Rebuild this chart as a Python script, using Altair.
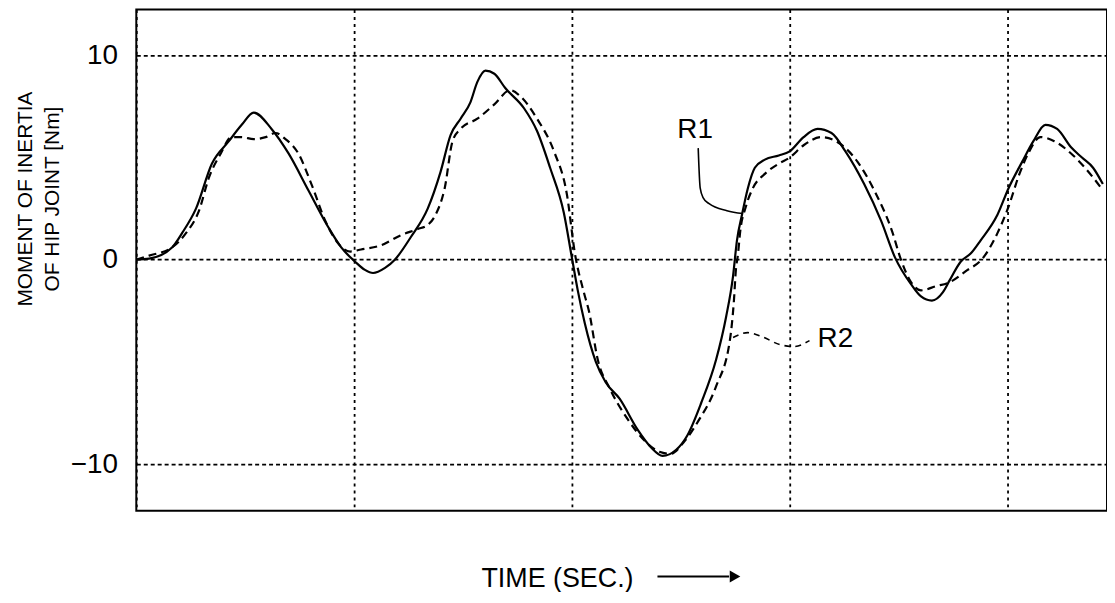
import altair as alt
import pandas as pd

# ---- data ----
r1_time = [0.000, 0.059, 0.164, 0.210, 0.274, 0.347, 0.425, 0.484, 0.539, 0.621,
           0.699, 0.790, 0.881, 0.941, 1.005, 1.050, 1.087, 1.142, 1.187, 1.260,
           1.338, 1.397, 1.443, 1.489, 1.534, 1.566, 1.603, 1.644, 1.694, 1.781,
           1.840, 1.900, 1.963, 2.000, 2.027, 2.059, 2.110, 2.155, 2.219, 2.301,
           2.365, 2.416, 2.479, 2.530, 2.594, 2.662, 2.708, 2.740, 2.758, 2.781,
           2.808, 2.840, 2.886, 2.950, 3.000, 3.064, 3.128, 3.192, 3.256, 3.342,
           3.420, 3.484, 3.557, 3.603, 3.653, 3.703, 3.735, 3.785, 3.831, 3.877,
           3.954, 4.005, 4.068, 4.119, 4.174, 4.228, 4.292, 4.342, 4.393, 4.438]
r1_value = [0.0, 0.05, 0.6, 1.3, 2.5, 4.7, 5.8, 6.6, 7.2, 6.4,
            5.2, 3.4, 1.6, 0.6, -0.1, -0.5, -0.65, -0.4, 0.0, 1.1,
            2.5, 4.3, 6.1, 6.9, 7.7, 8.7, 9.25, 9.1, 8.4, 7.4,
            6.3, 4.5, 2.3, 0.1, -1.5, -3.1, -5.0, -6.0, -6.8, -8.3,
            -9.2, -9.6, -9.3, -8.6, -7.0, -4.9, -2.8, -0.8, 0.95, 2.2,
            3.5, 4.5, 4.9, 5.1, 5.3, 6.0, 6.4, 6.2, 5.3, 3.7,
            1.9, 0.1, -1.2, -1.8, -2.0, -1.6, -1.0, -0.1, 0.3, 0.95,
            2.2, 3.5, 4.8, 5.8, 6.6, 6.4, 5.5, 5.0, 4.5, 3.7]

r2_time = [0.000, 0.059, 0.164, 0.228, 0.288, 0.333, 0.388, 0.438, 0.484, 0.539,
           0.594, 0.639, 0.685, 0.744, 0.804, 0.868, 0.927, 0.982, 1.032, 1.123,
           1.215, 1.292, 1.338, 1.374, 1.416, 1.452, 1.489, 1.566, 1.644, 1.717,
           1.763, 1.840, 1.918, 1.977, 2.014, 2.055, 2.078, 2.119, 2.174, 2.256,
           2.338, 2.402, 2.452, 2.516, 2.580, 2.662, 2.726, 2.744, 2.753, 2.763,
           2.772, 2.799, 2.831, 2.886, 2.950, 3.000, 3.064, 3.146, 3.228, 3.311,
           3.388, 3.470, 3.511, 3.557, 3.603, 3.671, 3.735, 3.817, 3.881, 3.954,
           4.005, 4.055, 4.100, 4.151, 4.215, 4.292, 4.356, 4.438]
r2_value = [0.0, 0.2, 0.6, 1.3, 2.4, 4.0, 5.2, 6.0, 6.0, 5.9,
            6.0, 6.2, 5.9, 5.2, 3.7, 1.9, 0.8, 0.4, 0.5, 0.7,
            1.2, 1.5, 1.7, 2.2, 3.5, 5.8, 6.4, 6.9, 7.6, 8.3,
            8.0, 6.9, 5.3, 3.2, 0.3, -1.6, -2.5, -4.9, -6.3, -7.8,
            -8.9, -9.4, -9.5, -8.9, -7.9, -6.2, -3.9, -2.0, -0.5, 0.3,
            1.3, 2.6, 3.5, 4.2, 4.7, 5.0, 5.6, 6.0, 5.7, 4.8,
            3.4, 1.4, 0.0, -1.1, -1.5, -1.3, -1.1, -0.5, 0.0, 1.3,
            2.6, 4.2, 5.3, 6.0, 5.8, 5.2, 4.5, 3.4]

y_ticks = [-10, 0, 10]
x_grid = [0, 1, 2, 3, 4]

label_text = ["R1", "R2"]
label_time = [2.484, 3.128]
label_value = [6.36, -3.86]

r1_leader_time = [2.580, 2.589, 2.603, 2.630, 2.712, 2.785]
r1_leader_value = [5.46, 3.52, 3.03, 2.74, 2.40, 2.26]
r2_leader_time = [2.740, 2.808, 2.872, 2.954, 3.018, 3.091]
r2_leader_value = [-3.81, -3.57, -3.76, -4.15, -4.25, -3.96]

x_title = "TIME (SEC.)"
y_title = ["MOMENT OF INERTIA", "OF HIP JOINT [Nm]"]

# ---- styling ----
FONT = "Liberation Sans, Arial, sans-serif"
X_DOMAIN = [0, 4.457]
Y_DOMAIN = [-12.29, 12.24]

r1_df = pd.DataFrame({"t": r1_time, "v": r1_value, "i": range(len(r1_time))})
r2_df = pd.DataFrame({"t": r2_time, "v": r2_value, "i": range(len(r2_time))})
lab_df = pd.DataFrame({"t": label_time, "v": label_value, "txt": label_text})
l1_df = pd.DataFrame({"t": r1_leader_time, "v": r1_leader_value, "i": range(len(r1_leader_time))})
l2_df = pd.DataFrame({"t": r2_leader_time, "v": r2_leader_value, "i": range(len(r2_leader_time))})

xs = alt.Scale(domain=X_DOMAIN, nice=False, zero=False)
ys = alt.Scale(domain=Y_DOMAIN, nice=False, zero=False)

x_axis = alt.Axis(values=x_grid, grid=True, gridColor="black", gridDash=[3, 4],
                  gridWidth=1.8, gridOpacity=1, labels=False, ticks=False, domain=False,
                  title=x_title, titleFont=FONT, titleFontSize=27,
                  titleFontWeight="normal", titleColor="black",
                  titleX=423, titleY=76, titleAlign="center", titleBaseline="alphabetic")
y_axis = alt.Axis(values=y_ticks, grid=True, gridColor="black", gridDash=[4, 3],
                  gridWidth=1.8, gridOpacity=1, ticks=False, domain=False,
                  labelFont=FONT, labelFontSize=28, labelColor="black", labelPadding=19,
                  title=y_title, titleFont=FONT, titleFontSize=21,
                  titleFontWeight="normal", titleColor="black", titleAngle=270,
                  titleX=-111, titleY=190, titleAlign="center", titleBaseline="middle",
                  titleLineHeight=27)

X = alt.X("t:Q", scale=xs, axis=x_axis)
Y = alt.Y("v:Q", scale=ys, axis=y_axis)

r1_line = alt.Chart(r1_df).mark_line(color="black", strokeWidth=2.2, interpolate="monotone").encode(
    x=X, y=Y, order="i:Q")
r2_line = alt.Chart(r2_df).mark_line(color="black", strokeWidth=2.2, strokeDash=[8, 5],
                                     interpolate="monotone").encode(x=X, y=Y, order="i:Q")
lead1 = alt.Chart(l1_df).mark_line(color="black", strokeWidth=1.6, interpolate="monotone").encode(
    x=X, y=Y, order="i:Q")
lead2 = alt.Chart(l2_df).mark_line(color="black", strokeWidth=1.6, strokeDash=[6, 5],
                                   interpolate="monotone").encode(x=X, y=Y, order="i:Q")
labels = alt.Chart(lab_df).mark_text(font=FONT, fontSize=28, color="black",
                                     align="left", baseline="middle").encode(
    x=X, y=Y, text="txt:N")

one = pd.DataFrame({"k": [0]})
arrow_shaft = alt.Chart(one).mark_rule(color="black", strokeWidth=2).encode(
    x=alt.value(524), x2=alt.value(596), y=alt.value(570))
arrow_head = alt.Chart(one).mark_point(shape="triangle-right", filled=True, size=150,
                                       color="black", opacity=1).encode(
    x=alt.value(602), y=alt.value(570))

chart = alt.layer(r1_line, r2_line, lead1, lead2, labels, arrow_shaft, arrow_head).properties(
    width=976, height=504,
    padding={"left": 129, "top": 0, "right": 0, "bottom": 80},
    autosize=alt.AutoSizeParams(type="none"),
    background="white",
).configure_view(stroke="black", strokeWidth=2)

chart.save("out.html", embed_options={"renderer": "svg", "actions": False})
